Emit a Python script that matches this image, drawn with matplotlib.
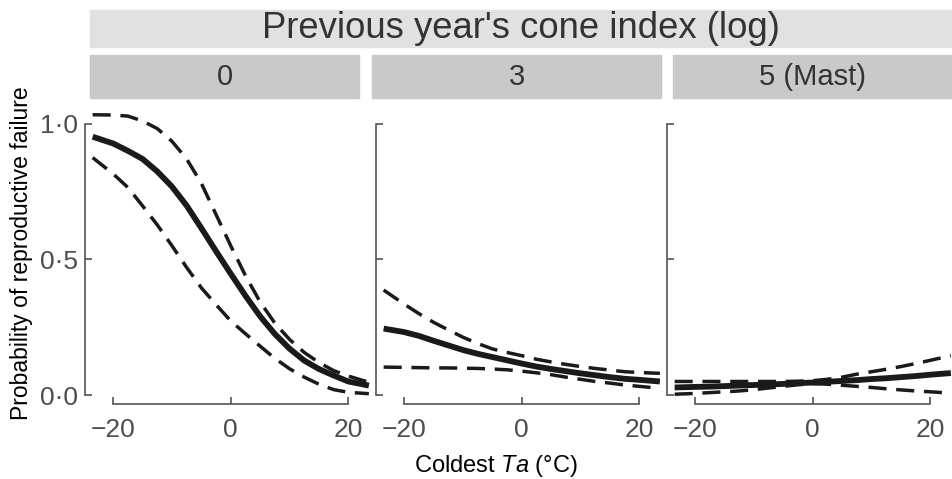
import matplotlib
matplotlib.use("Agg")
import matplotlib.pyplot as plt
from matplotlib.patches import Rectangle

plt.rcParams['font.family'] = ['Liberation Sans', 'DejaVu Sans']
plt.rcParams['mathtext.fontset'] = 'custom'
plt.rcParams['mathtext.rm'] = 'Liberation Sans'
plt.rcParams['mathtext.it'] = 'Liberation Sans:italic'

temp = [-23.5, -20, -17.5, -15, -12.5, -10, -7.5, -5, -2.5, 0,
        2.5, 5, 7.5, 10, 12.5, 15, 17.5, 20, 23.5]

# panel "0"
mean_0 = [0.952, 0.927, 0.90, 0.87, 0.824, 0.768, 0.698, 0.615, 0.53, 0.447,
          0.366, 0.29, 0.225, 0.171, 0.127, 0.096, 0.072, 0.05, 0.035]
upper_0 = [1.033, 1.032, 1.028, 1.01, 0.982, 0.935, 0.87, 0.78, 0.665, 0.55,
           0.44, 0.343, 0.265, 0.205, 0.157, 0.12, 0.09, 0.07, 0.047]
lower_0 = [0.875, 0.815, 0.765, 0.697, 0.627, 0.55, 0.47, 0.395, 0.333, 0.273,
           0.226, 0.18, 0.135, 0.097, 0.066, 0.04, 0.02, 0.01, 0.005]

# panel "3"
mean_3 = [0.245, 0.232, 0.218, 0.20, 0.183, 0.166, 0.152, 0.14, 0.128, 0.116,
          0.105, 0.096, 0.088, 0.08, 0.073, 0.066, 0.06, 0.056, 0.05]
upper_3 = [0.387, 0.335, 0.30, 0.268, 0.24, 0.213, 0.19, 0.17, 0.157, 0.145,
           0.132, 0.122, 0.113, 0.105, 0.098, 0.092, 0.086, 0.083, 0.08]
lower_3 = [0.103, 0.102, 0.101, 0.10, 0.10, 0.099, 0.098, 0.096, 0.093, 0.088,
           0.082, 0.075, 0.066, 0.058, 0.05, 0.044, 0.037, 0.032, 0.025]

# panel "5 (Mast)"
mean_5 = [0.028, 0.03, 0.031, 0.033, 0.035, 0.037, 0.039, 0.041, 0.044, 0.046,
          0.049, 0.052, 0.055, 0.059, 0.062, 0.066, 0.07, 0.075, 0.081]
upper_5 = [0.05, 0.05, 0.05, 0.05, 0.05, 0.05, 0.05, 0.05, 0.051, 0.053,
           0.058, 0.066, 0.077, 0.086, 0.095, 0.105, 0.116, 0.128, 0.145]
lower_5 = [0.003, 0.006, 0.009, 0.012, 0.015, 0.02, 0.026, 0.032, 0.038, 0.042,
           0.04, 0.036, 0.032, 0.028, 0.023, 0.019, 0.015, 0.012, 0.007]

panel_labels = ['0', '3', '5 (Mast)']
panel_means = [mean_0, mean_3, mean_5]
panel_upper = [upper_0, upper_3, upper_5]
panel_lower = [lower_0, lower_3, lower_5]
x_ticks = [-20, 0, 20]
y_ticks = [0, 0.5, 1.0]
y_tick_labels = ['0·0', '0·5', '1·0']

W, H = 952, 479


def px_box(x0, y0, x1, y1):
    # pixel box (top-left origin) -> figure fraction rect
    return [x0 / W, 1 - y1 / H, (x1 - x0) / W, (y1 - y0) / H]


fig = plt.figure(figsize=(W / 100, H / 100), dpi=100)

# facet header strips
fig.patches.append(Rectangle((90 / W, 1 - 47 / H), (952 - 90) / W, 37 / H,
                             transform=fig.transFigure, color='#e1e1e1', zorder=0))
fig.text(521 / W, 1 - 29 / H, "Previous year's cone index (log)", fontsize=26.3,
         color='#333333', ha='center', va='center')

strip_x = [(90, 359), (372, 661), (673, 952)]
for (sx0, sx1), lab in zip(strip_x, panel_labels):
    fig.patches.append(Rectangle((sx0 / W, 1 - 98 / H), (sx1 - sx0) / W, 43 / H,
                                 transform=fig.transFigure, color='#c9c9c9', zorder=0))
    fig.text((sx0 + sx1) / 2 / W, 1 - 77 / H, lab, fontsize=21,
             color='#333333', ha='center', va='center')

axis_grey = '#555555'
ax_left = [85, 376, 667]
for i, left in enumerate(ax_left):
    ax = fig.add_axes(px_box(left, 102, left + 288, 404))
    ax.plot(temp, panel_means[i], color='#1a1a1a', lw=4.2, solid_capstyle='butt',
            solid_joinstyle='round', clip_on=False)
    for band in (panel_upper[i], panel_lower[i]):
        ax.plot(temp, band, color='#1a1a1a', lw=2.5, dashes=(5.2, 2.8),
                clip_on=False)
    ax.set_xlim(-24.8, 24.2)
    ax.set_ylim(-0.033, 1.08)
    for side in ('top', 'right'):
        ax.spines[side].set_visible(False)
    ax.spines['left'].set_bounds(0, 1)
    ax.spines['bottom'].set_bounds(-20, 20)
    for side in ('left', 'bottom'):
        ax.spines[side].set_color(axis_grey)
        ax.spines[side].set_linewidth(1.2)
    ax.set_xticks(x_ticks)
    ax.set_xticklabels(['−20', '0', '20'])
    ax.set_yticks(y_ticks)
    if i == 0:
        ax.set_yticklabels(y_tick_labels)
    else:
        ax.set_yticklabels([])
    ax.tick_params(direction='in', length=5, width=1.2, color=axis_grey,
                   labelcolor='#4d4d4d', labelsize=19)
    ax.tick_params(axis='x', pad=10)
    ax.tick_params(axis='y', pad=5)
    ax.patch.set_alpha(0)

fig.text(496 / W, 1 - 466 / H, 'Coldest $\\mathit{Ta}$ (°C)', fontsize=17,
         color='black', ha='center', va='center')
fig.text(22 / W, 1 - 253 / H, 'Probability of reproductive failure', fontsize=16.5,
         color='black', ha='center', va='center', rotation=90)

fig.savefig('out.png', dpi=100)
